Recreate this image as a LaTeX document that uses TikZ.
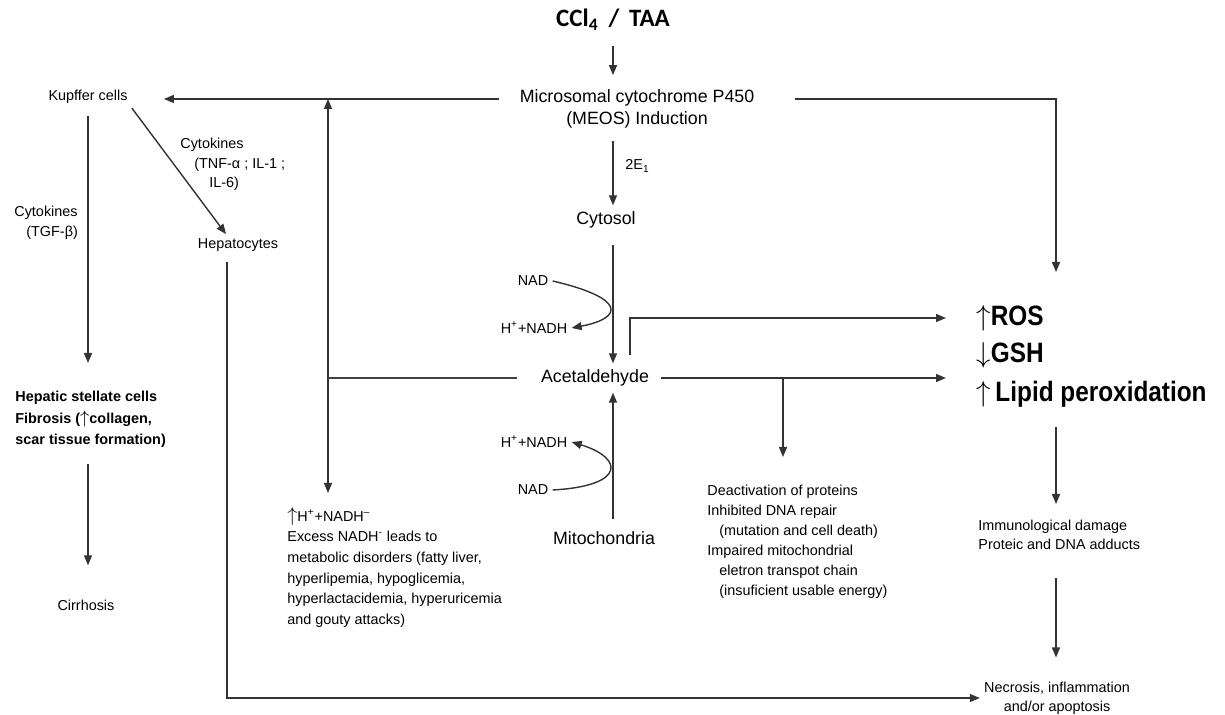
\documentclass[tikz,border=0pt]{standalone}
\usepackage{fontspec}
\setmainfont{Liberation Sans}
\newfontfamily\calibrifont{Carlito}
\newfontfamily\narrowfont[FakeStretch=0.87]{Liberation Sans}
\usetikzlibrary{positioning, arrows.meta, calc}

\begin{document}
\begin{tikzpicture}[x=0.5pt, y=-0.5pt,
  lbl/.style={font=\fontsize{7.2}{10}\selectfont, inner sep=2pt},
  lblb/.style={font=\fontsize{7.2}{10.6}\selectfont\bfseries, inner sep=0pt},
  main/.style={font=\fontsize{8.9}{11.2}\selectfont, inner sep=3pt},
  stress/.style={font=\narrowfont\bfseries\fontsize{14}{16}\selectfont, inner sep=0pt},
  arr/.style={draw=black!80, line width=0.7pt, -{Triangle[length=5pt, width=4pt]}},
  dblarr/.style={draw=black!80, line width=0.7pt,
                 {Triangle[length=5pt, width=4pt]}-{Triangle[length=5pt, width=4pt]}},
  link/.style={draw=black!75, line width=0.7pt}]

\useasboundingbox (0,0) rectangle (1225,715);

% centre column
\node[font=\calibrifont\bfseries\fontsize{12.5}{14}\selectfont] (ccl) at (613,20) {CCl\textsubscript{4}\ \,/\ \,TAA};
\node[main, align=center] (meos) at (637,109) {Microsomal cytochrome P450\\(MEOS) Induction};
\node[lbl, anchor=west] (e1) at (621,166) {2E\textsubscript{1}};
\node[main] (cyt) at (606,220) {Cytosol};
\node[main] (ald) at (595,378) {Acetaldehyde};
\node[main] (mito) at (604,538) {Mitochondria};
\node[lbl] (nad1) at (533,281) {NAD};
\node[lbl] (hn1) at (534,328) {H\textsuperscript{+}+NADH};
\node[lbl] (hn2) at (534,442) {H\textsuperscript{+}+NADH};
\node[lbl] (nad2) at (533,490) {NAD};

% left side
\node[lbl] (kup) at (88,97) {Kupffer cells};
\node[lbl, anchor=north west, align=left] (tgf) at (10,202) {Cytokines\\\hspace{6pt}(TGF-β)};
\node[lbl, anchor=north west, align=left, font=\fontsize{7.2}{9.6}\selectfont] (tnf) at (176,134)
  {Cytokines\\\hspace{7pt}(TNF-α ; IL-1 ;\\\hspace{14.5pt}IL-6)};
\node[lbl] (hep) at (238,245) {Hepatocytes};
\node[lblb, anchor=north west, align=left] (hsc) at (15,391)
  {Hepatic stellate cells\\Fibrosis ({\fontsize{9}{9}\selectfont$\uparrow$}collagen,\\scar tissue formation)};
\node[lbl] (cir) at (86,605) {Cirrhosis};
\node[lbl, anchor=north west, align=left, font=\fontsize{7.2}{10.3}\selectfont] (exc) at (283,503)
  {{\fontsize{10}{10}\selectfont$\uparrow$}H\textsuperscript{+}+NADH\textsuperscript{--}\\
   Excess NADH\textsuperscript{-} leads to\\metabolic disorders (fatty liver,\\
   hyperlipemia, hypoglicemia,\\hyperlactacidemia, hyperuricemia\\and gouty attacks)};

% right side
\node[lbl, anchor=north west, align=left] (dea) at (703,481)
  {Deactivation of proteins\\Inhibited DNA repair\\\hspace{6pt}(mutation and cell death)\\
   Impaired mitochondrial\\\hspace{6pt}eletron transpot chain\\\hspace{6pt}(insuficient usable energy)};
\node[stress, anchor=west] (ros) at (976,318) {$\uparrow$ROS};
\node[stress, anchor=west] (gsh) at (976,355) {$\downarrow$GSH};
\node[stress, anchor=west] (lpo) at (976,394) {$\uparrow$\,Lipid peroxidation};
\node[lbl, anchor=north west, align=left, font=\fontsize{7.2}{9.4}\selectfont] (imm) at (974,516)
  {Immunological damage\\Proteic and DNA adducts};
\node[lbl, align=center, font=\fontsize{7.2}{9.4}\selectfont] (nec) at (1057,698)
  {Necrosis, inflammation\\and/or apoptosis};

% bend points
\coordinate (vtop) at (328,99);
\coordinate (vbot) at (328,493);
\coordinate (rtop) at (1056,272);
\coordinate (b1) at (630,355);
\coordinate (b2) at (783,378);

% connectors
\draw[arr, shorten <=4pt, shorten >=4pt] (ccl) -- (ccl |- meos.north);
\draw[arr, shorten <=3pt] (meos.south -| ccl) -- (cyt.north -| ccl);
\draw[arr, shorten <=5pt] (cyt.south -| ccl) -- (ald.north -| ccl);
\draw[arr, shorten <=3pt] (mito.north -| ccl) -- (ald.south -| ccl);
\draw[arr, shorten <=7pt, shorten >=16pt] (meos.west |- vtop) -- (kup.east |- vtop);
\draw[arr, shorten <=17pt] (meos.east |- vtop) -| (rtop);
\draw[dblarr] (vtop) -- (vbot);
\draw[link, shorten <=9pt] (ald.west) -- (ald.west -| vtop);
\draw[arr, shorten <=3pt, shorten >=15pt] (ald.east) -- (ald.east -| lpo.west);
\draw[arr, shorten >=15pt] (b1) |- (ros.west);
\draw[arr, shorten >=12pt] (b2) -- (b2 |- dea.north);
\draw[arr] (nad1.east) .. controls (626,298) and (624,318) .. (hn1.east);
\draw[arr] (nad2.east) .. controls (626,486) and (624,458) .. (hn2.east);
\draw[arr, shorten <=4pt, shorten >=14pt] (kup) -- (kup |- hsc.north);
\draw[arr, shorten <=8pt, shorten >=15pt] (hsc.south -| kup) -- (cir.north -| kup);
\draw[arr] (kup.south east) -- ([xshift=-6pt]hep.north);
\draw[arr, shorten <=3pt] ([xshift=-5.5pt]hep.south) |- (nec.west);
\draw[arr, shorten <=10pt, shorten >=6pt] (lpo.south -| rtop) -- (imm.north -| rtop);
\draw[arr, shorten <=12pt, shorten >=10pt] (imm.south -| rtop) -- (nec.north -| rtop);
\end{tikzpicture}
\end{document}
